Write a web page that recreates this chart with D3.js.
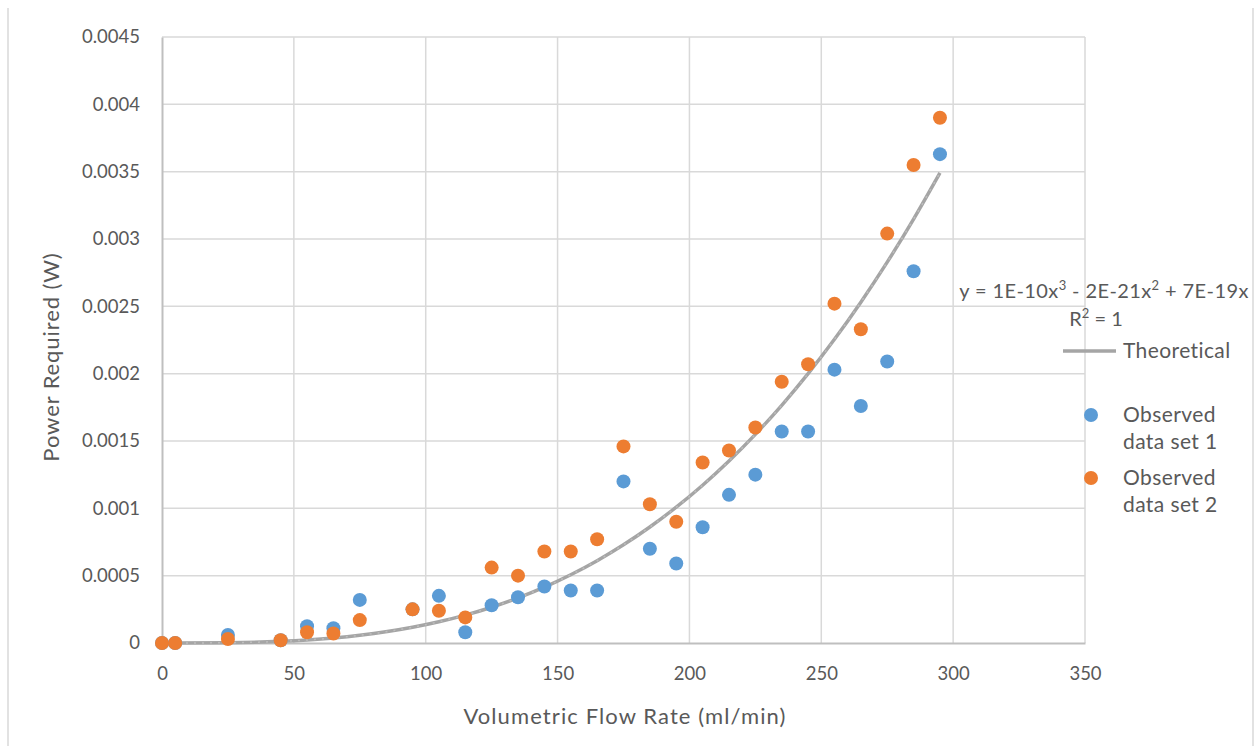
<!DOCTYPE html>
<html><head><meta charset="utf-8">
<script src="https://cdn.jsdelivr.net/npm/d3@7"></script>
<style>body{margin:0;background:#fff}svg{display:block;font-family:Lato,"Open Sans",sans-serif}</style>
</head><body><svg id="c" width="1255" height="746"></svg>
<script>
const xTicks=[0,50,100,150,200,250,300,350];
const yTicks=[0,0.0005,0.001,0.0015,0.002,0.0025,0.003,0.0035,0.004,0.0045];
const yTickLabels=["0","0.0005","0.001","0.0015","0.002","0.0025","0.003","0.0035","0.004","0.0045"];
const flowX=[0,5,25,45,55,65,75,95,105,115,125,135,145,155,165,175,185,195,205,215,225,235,245,255,265,275,285,295];
const observed1=[0,0,0.00006,0.00002,0.000125,0.00011,0.00032,0.00025,0.00035,0.00008,0.00028,0.00034,0.00042,0.00039,0.00039,0.0012,0.0007,0.00059,0.00086,0.0011,0.00125,0.00157,0.00157,0.00203,0.00176,0.00209,0.00276,0.00363];
const observed2=[0,0,0.00003,0.00002,0.00008,0.00007,0.00017,0.00025,0.00024,0.00019,0.00056,0.0005,0.00068,0.00068,0.00077,0.00146,0.00103,0.0009,0.00134,0.00143,0.0016,0.00194,0.00207,0.00252,0.00233,0.00304,0.00355,0.0039];
const theoretical=[0,0.00000002,0.0000021,0.0000124,0.0000226,0.0000373,0.0000574,0.0001166,0.0001574,0.0002068,0.0002656,0.0003346,0.0004146,0.0005065,0.0006109,0.0007289,0.0008611,0.0010084,0.0011717,0.0013516,0.0015491,0.001765,0.002,0.002255,0.002531,0.002828,0.003148,0.003491];
const seriesNames=["Theoretical","Observed data set 1","Observed data set 2"];
const colors={grid:"#d9d9d9",axis:"#bfbfbf",text:"#595959",theo:"#a5a5a5",s1:"#5b9bd5",s2:"#ed7d31"};

const svg=d3.select("#c");
const x=d3.scaleLinear().domain([0,350]).range([162,1085]);
const y=d3.scaleLinear().domain([0,0.0045]).range([643,37]);

svg.append("line").attr("x1",8).attr("x2",8).attr("y1",8).attr("y2",746).attr("stroke",colors.grid).attr("stroke-width",1.5);
svg.append("line").attr("x1",1253).attr("x2",1253).attr("y1",8).attr("y2",746).attr("stroke",colors.grid).attr("stroke-width",1.5);

svg.append("g").selectAll("line").data(yTicks.slice(1)).join("line")
 .attr("x1",x(0)).attr("x2",x(350)).attr("y1",d=>y(d)).attr("y2",d=>y(d))
 .attr("stroke",colors.grid).attr("stroke-width",1.5);
svg.append("g").selectAll("line").data(xTicks.slice(1)).join("line")
 .attr("y1",y(0)).attr("y2",y(0.0045)).attr("x1",d=>x(d)).attr("x2",d=>x(d))
 .attr("stroke",colors.grid).attr("stroke-width",1.5);

const xAxis=svg.append("g").attr("transform",`translate(0,${y(0)})`)
 .call(d3.axisBottom(x).tickValues(xTicks).tickSize(0).tickPadding(24).tickFormat(d3.format("d")));
const yAxis=svg.append("g").attr("transform",`translate(${x(0)},0)`)
 .call(d3.axisLeft(y).tickValues(yTicks).tickSize(0).tickPadding(22).tickFormat((d,i)=>yTickLabels[i]));
[xAxis,yAxis].forEach(a=>{a.select(".domain").attr("stroke",colors.axis).attr("stroke-width",2);
 a.selectAll("text").attr("fill",colors.text).attr("font-size",18.5).attr("font-family","Lato, sans-serif");});

const line=d3.line().x((d,i)=>x(flowX[i])).y(d=>y(d)).curve(d3.curveMonotoneX);
svg.append("path").datum(theoretical).attr("d",line).attr("fill","none").attr("stroke",colors.theo).attr("stroke-width",3.5);
svg.append("path").datum(theoretical).attr("d",line).attr("fill","none").attr("stroke","#bdbdbd").attr("stroke-width",1.5).attr("stroke-dasharray","2,6");

svg.append("g").selectAll("circle").data(observed1).join("circle")
 .attr("cx",(d,i)=>x(flowX[i])).attr("cy",d=>y(d)).attr("r",7).attr("fill",colors.s1);
svg.append("g").selectAll("circle").data(observed2).join("circle")
 .attr("cx",(d,i)=>x(flowX[i])).attr("cy",d=>y(d)).attr("r",7).attr("fill",colors.s2);

svg.append("text").attr("x",625).attr("y",724).attr("text-anchor","middle").attr("fill",colors.text)
 .attr("font-size",22).attr("letter-spacing",1.1).text("Volumetric Flow Rate (ml/min)");
svg.append("text").attr("transform","translate(59,357) rotate(-90)").attr("text-anchor","middle").attr("fill",colors.text)
 .attr("font-size",22).attr("letter-spacing",0.9).text("Power Required (W)");

const eq=svg.append("text").attr("x",1104).attr("y",298).attr("text-anchor","middle").attr("fill",colors.text).attr("font-size",20).attr("letter-spacing",0.4);
eq.append("tspan").text("y = 1E-10x");
eq.append("tspan").attr("dy",-8).attr("font-size",13).text("3");
eq.append("tspan").attr("dy",8).text(" - 2E-21x");
eq.append("tspan").attr("dy",-8).attr("font-size",13).text("2");
eq.append("tspan").attr("dy",8).text(" + 7E-19x");
const r2=svg.append("text").attr("x",1096).attr("y",326).attr("text-anchor","middle").attr("fill",colors.text).attr("font-size",20);
r2.append("tspan").text("R");
r2.append("tspan").attr("dy",-8).attr("font-size",13).text("2");
r2.append("tspan").attr("dy",8).text(" = 1");

const lg=svg.append("g").attr("fill",colors.text).attr("font-size",21).attr("letter-spacing",0.4);
lg.append("line").attr("x1",1063).attr("x2",1116).attr("y1",351).attr("y2",351).attr("stroke",colors.theo).attr("stroke-width",3.5);
lg.append("text").attr("x",1123).attr("y",358).text(seriesNames[0]);
lg.append("circle").attr("cx",1091).attr("cy",415).attr("r",7).attr("fill",colors.s1);
lg.append("text").attr("x",1123).attr("y",422).text("Observed");
lg.append("text").attr("x",1123).attr("y",449).text("data set 1");
lg.append("circle").attr("cx",1091).attr("cy",478).attr("r",7).attr("fill",colors.s2);
lg.append("text").attr("x",1123).attr("y",485).text("Observed");
lg.append("text").attr("x",1123).attr("y",512).text("data set 2");
</script></body></html>
